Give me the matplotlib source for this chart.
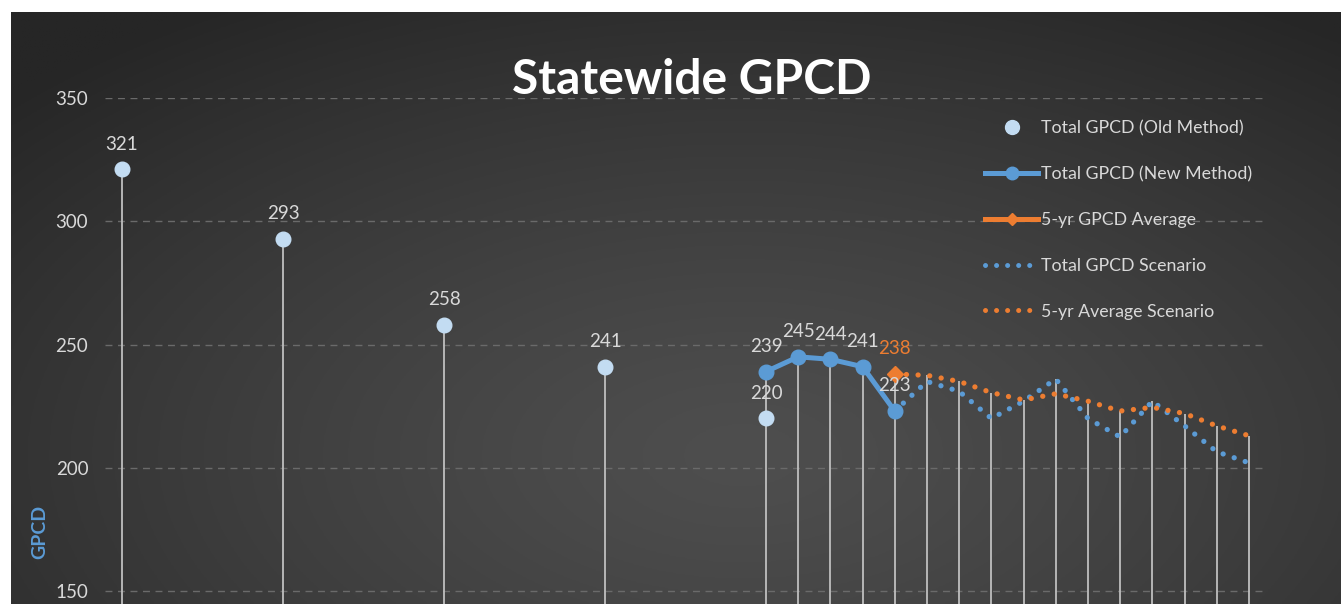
import matplotlib
matplotlib.use("Agg")
import matplotlib.pyplot as plt
from matplotlib.lines import Line2D
import numpy as np

plt.rcParams["font.family"] = ["Lato", "DejaVu Sans"]

# data
old_years = [1990, 1995, 2000, 2005, 2010]
old_gpcd = [321, 293, 258, 241, 220]

new_years = [2010, 2011, 2012, 2013, 2014]
new_gpcd = [239, 245, 244, 241, 223]

avg_years = [2014]
avg_gpcd = [238]

scen_years = [2014, 2015, 2016, 2017, 2018, 2019, 2020, 2021, 2022, 2023, 2024, 2025]
total_scen = [223, 235, 231, 220, 227, 236, 220, 212.5, 227, 217, 206.5, 202]
avg_scen = [238, 237.5, 235, 230.5, 227.5, 230, 227, 223, 224.5, 222, 217, 213]

BLUE = "#5b9bd5"
LIGHT = "#c3dcf2"
ORANGE = "#ed7d31"
TXT = "#d9d9d9"

W, H = 1341, 604
fig = plt.figure(figsize=(W / 100, H / 100), dpi=100, facecolor="white")

# dark radial background (screenshot has a white margin top/left)
bg = fig.add_axes([11 / W, 0, (W - 11) / W, (H - 12) / H])
bg.set_axis_off()
gx, gy = np.meshgrid(np.linspace(0, 1, 400), np.linspace(0, 1, 200))
r = np.sqrt(((gx - 0.55) / 0.75) ** 2 + ((gy - 0.75) / 0.9) ** 2)
r = np.clip(r, 0, 1)
inner, outer = 0x4e / 255, 0x26 / 255
shade = inner + (outer - inner) * r ** 1.3
bg.imshow(np.dstack([shade] * 3), aspect="auto", extent=[0, 1, 0, 1], origin="upper")

ax = fig.add_axes([105 / W, 0, 1160 / W, (H - 98) / H])
ax.patch.set_alpha(0)
ax.set_xlim(1989.47, 2025.5)
ax.set_ylim(350 - (H - 98) / 2.465, 350)
for s in ax.spines.values():
    s.set_visible(False)
ax.set_xticks([])
ax.set_yticks([150, 200, 250, 300, 350])
ax.tick_params(axis="y", length=0, pad=12, labelsize=13.5, labelcolor=TXT)
ax.yaxis.grid(True, color="#6a6a6a", linestyle=(0, (5, 4)), linewidth=1)
ax.set_axisbelow(True)
ax.set_ylabel("GPCD", color=BLUE, fontsize=14, fontweight="bold")
ax.yaxis.set_label_coords(-0.049, 0.142)

# drop lines to the highest point of each year
drop = {}
for xs, ys in [(old_years, old_gpcd), (new_years, new_gpcd), (avg_years, avg_gpcd),
               (scen_years, total_scen), (scen_years, avg_scen)]:
    for x, y in zip(xs, ys):
        drop[x] = max(drop.get(x, -1), y)
ybot = ax.get_ylim()[0]
ax.vlines(list(drop.keys()), ybot, list(drop.values()), color="#bfbfbf", linewidth=1.3, zorder=1)

dot = (0, (0.01, 2.2))
ax.plot(scen_years, total_scen, color=BLUE, linestyle=dot, linewidth=3.8,
        dash_capstyle="round", zorder=2)
ax.plot(scen_years, avg_scen, color=ORANGE, linestyle=dot, linewidth=3.8,
        dash_capstyle="round", zorder=2)
ax.plot(old_years, old_gpcd, linestyle="none", marker="o", markersize=10.5,
        color=LIGHT, zorder=3)
ax.plot(new_years, new_gpcd, color=BLUE, linewidth=3.6, marker="o",
        markersize=10.5, zorder=4, solid_capstyle="round")
ax.plot(avg_years, avg_gpcd, linestyle="none", marker="D", markersize=8,
        color=ORANGE, zorder=5)

for xs, ys, c in [(old_years, old_gpcd, TXT), (new_years, new_gpcd, TXT), (avg_years, avg_gpcd, ORANGE)]:
    for x, y in zip(xs, ys):
        ax.annotate("%d" % y, (x, y), xytext=(0, 12), textcoords="offset points",
                    ha="center", va="bottom", fontsize=13.5, color=c, zorder=6)

fig.text(692 / W, 1 - 80 / H, "Statewide GPCD", ha="center", va="center",
         fontsize=34.5, fontweight="bold", color="white")

handles = [
    Line2D([], [], linestyle="none", marker="o", markersize=10, color=LIGHT),
    Line2D([], [], color=BLUE, linewidth=3.6, marker="o", markersize=9),
    Line2D([], [], color=ORANGE, linewidth=3.6, marker="D", markersize=6),
    Line2D([], [], color=BLUE, linestyle=dot, linewidth=3.6, dash_capstyle="round"),
    Line2D([], [], color=ORANGE, linestyle=dot, linewidth=3.6, dash_capstyle="round"),
]
labels = ["Total GPCD (Old Method)", "Total GPCD (New Method)", "5-yr GPCD Average",
          "Total GPCD Scenario", "5-yr Average Scenario"]
leg = fig.legend(handles, labels, loc="upper left", bbox_to_anchor=(985 / W, 1 - 120 / H),
                 frameon=False, fontsize=12.8, labelcolor=TXT, numpoints=1,
                 handlelength=3.0, handletextpad=0.15, labelspacing=1.68,
                 borderaxespad=0, borderpad=0)

fig.savefig("out.png", dpi=100, facecolor=fig.get_facecolor())
